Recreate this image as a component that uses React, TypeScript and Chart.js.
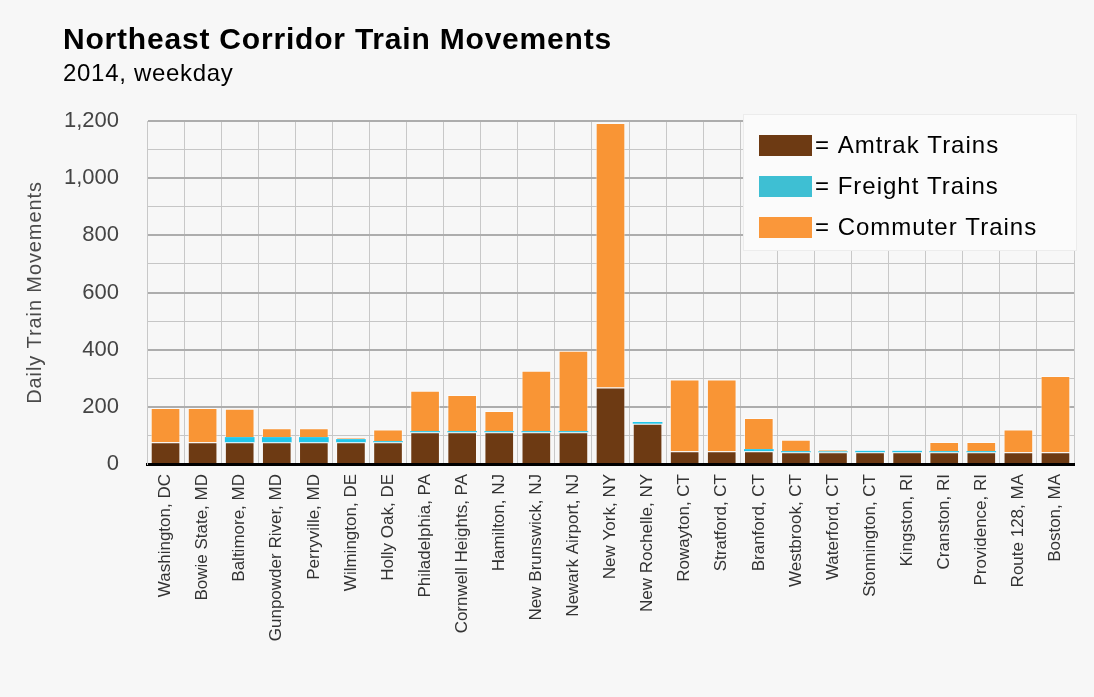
import React, { useEffect, useRef } from "react";
import { Chart, registerables } from "chart.js";

Chart.register(...registerables);

const categories = [
  "Washington, DC", "Bowie State, MD", "Baltimore, MD", "Gunpowder River, MD", "Perryville, MD",
  "Wilmington, DE", "Holly Oak, DE", "Philadelphia, PA", "Cornwell Heights, PA", "Hamilton, NJ",
  "New Brunswick, NJ", "Newark Airport, NJ", "New York, NY", "New Rochelle, NY", "Rowayton, CT",
  "Stratford, CT", "Branford, CT", "Westbrook, CT", "Waterford, CT", "Stonnington, CT",
  "Kingston, RI", "Cranston, RI", "Providence, RI", "Route 128, MA", "Boston, MA",
];
const amtrak = [76, 76, 76, 76, 76, 76, 76, 111, 111, 111, 111, 111, 268, 141, 45, 45, 45, 41, 41, 41, 41, 41, 41, 41, 41];
const freight = [0, 0, 18, 18, 18, 11, 4, 4, 4, 4, 4, 4, 0, 6, 0, 0, 7, 4, 3, 5, 5, 4, 4, 0, 0];
const commuter = [120, 120, 99, 31, 31, 4, 41, 141, 126, 70, 211, 281, 925, 0, 251, 251, 109, 40, 7, 0, 0, 32, 32, 80, 267];
const legendLabels = ["= Amtrak Trains", "= Freight Trains", "= Commuter Trains"];
const titleText = "Northeast Corridor Train Movements";
const subtitleText = "2014, weekday";
const yTitle = "Daily Train Movements";

const FONT = "'Liberation Sans', Arial, Helvetica, sans-serif";
const BG = "#f7f7f7";
const BROWN = "#6d3a13";
const CYAN = "#22c6ea";
const ORANGE = "#f99535";

export default function App() {
  const ref = useRef<HTMLCanvasElement | null>(null);

  useEffect(() => {
    document.body.style.margin = "0";
    document.body.style.background = BG;
    const canvas = ref.current!;
    const decor = {
      id: "decor",
      beforeDraw(chart: any) {
        const c = chart.ctx;
        c.save();
        c.fillStyle = BG;
        c.fillRect(0, 0, chart.width, chart.height);
        c.fillStyle = "#000";
        c.textBaseline = "alphabetic";
        c.textAlign = "left";
        c.letterSpacing = "0.8px";
        c.font = `bold 30px ${FONT}`;
        c.fillText(titleText, 63, 49);
        c.letterSpacing = "0.7px";
        c.font = `24px ${FONT}`;
        c.fillText(subtitleText, 63, 81);
        c.restore();
        c.save();
        c.translate(35, (chart.chartArea.top + chart.chartArea.bottom) / 2);
        c.rotate(-Math.PI / 2);
        c.fillStyle = "#4a4a4a";
        c.font = `20px ${FONT}`;
        c.letterSpacing = "0.9px";
        c.textAlign = "center";
        c.textBaseline = "middle";
        c.fillText(yTitle, 0, 0);
        c.restore();
      },
      afterDraw(chart: any) {
        const c = chart.ctx;
        c.save();
        c.fillStyle = "#fbfbfb";
        c.fillRect(743, 114, 333, 136);
        c.strokeStyle = "#ececec";
        c.lineWidth = 1;
        c.strokeRect(743.5, 114.5, 333, 136);
        const cols = [BROWN, "#3ebfd3", "#fa973a"];
        c.font = `24px ${FONT}`;
        c.letterSpacing = "1px";
        c.textBaseline = "middle";
        c.textAlign = "left";
        legendLabels.forEach((t, i) => {
          const y = 135 + i * 41;
          c.fillStyle = cols[i];
          c.fillRect(759, y, 53, 21);
          c.fillStyle = "#000";
          c.fillText(t, 815, y + 11);
        });
        c.restore();
      },
    };

    const chart = new Chart(canvas, {
      type: "bar",
      data: {
        labels: categories,
        datasets: [
          { label: "Amtrak Trains", data: amtrak, backgroundColor: BROWN, borderColor: "rgba(255,255,255,0.45)", borderWidth: 1 },
          { label: "Freight Trains", data: freight, backgroundColor: CYAN, borderWidth: 0 },
          { label: "Commuter Trains", data: commuter, backgroundColor: ORANGE, borderColor: "rgba(255,255,255,0.55)", borderWidth: 1 },
        ],
      },
      options: {
        responsive: false,
        animation: false,
        devicePixelRatio: 1,
        layout: { padding: { top: 121, right: 20, left: 0, bottom: 0 } },
        datasets: { bar: { barPercentage: 0.8, categoryPercentage: 1 } },
        plugins: { legend: { display: false }, tooltip: { enabled: false }, title: { display: false } },
        scales: {
          x: {
            stacked: true,
            afterFit: (s: any) => { s.height = 233; },
            grid: { offset: true, color: "#c8c8c8", lineWidth: 1, drawTicks: false },
            border: { color: "#000", width: 3 },
            ticks: {
              minRotation: 90, maxRotation: 90, autoSkip: false, padding: 10,
              color: "#333", font: { family: FONT, size: 17 },
            },
          },
          y: {
            stacked: true,
            min: 0, max: 1200,
            afterFit: (s: any) => { s.width = 147; },
            grid: {
              drawTicks: false,
              color: (ctx: any) => (ctx.tick && ctx.tick.value % 200 === 0 ? "#adadad" : "#c6c6c6"),
              lineWidth: (ctx: any) => (ctx.tick && ctx.tick.value % 200 === 0 ? 2 : 1),
            },
            border: { color: "#c8c8c8", width: 1 },
            ticks: {
              stepSize: 100,
              autoSkip: false,
              padding: 28,
              color: "#444",
              font: { family: FONT, size: 22 },
              callback: (v: any) => (Number(v) % 200 === 0 ? Number(v).toLocaleString("en-US") : ""),
            },
          },
        },
      },
      plugins: [decor],
    });
    return () => chart.destroy();
  }, []);

  return (
    <div style={{ width: 1094, height: 697, background: BG }}>
      <canvas ref={ref} width={1094} height={697} style={{ display: "block" }} />
    </div>
  );
}
